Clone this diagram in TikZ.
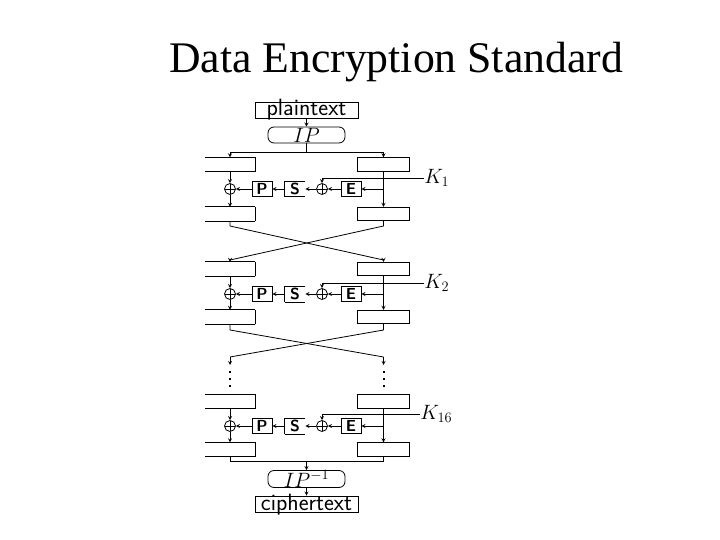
\documentclass[tikz,border=0pt]{standalone}
\usepackage{fontspec}
\setmainfont{Liberation Serif}
\usepackage{tikz}
\usetikzlibrary{arrows}
\tikzstyle{endbox} = [rectangle, draw=black, minimum width=103pt, minimum height=16pt, inner sep=0pt, text height=14pt, text depth=2pt, font=\sffamily\fontsize{23.5}{24}\selectfont]
\tikzstyle{ipbox} = [rectangle, rounded corners=6pt, draw=black, minimum width=77pt, minimum height=16pt, inner sep=0pt, font=\fontsize{20}{20}\selectfont]
\tikzstyle{halfbox} = [rectangle, minimum width=50pt, minimum height=13.5pt, inner sep=0pt, append after command={(\tikzlastnode.north west) edge[-] (\tikzlastnode.north east) (\tikzlastnode.north east) edge[-] (\tikzlastnode.south east) (\tikzlastnode.south east) edge[-] (\tikzlastnode.south west)}]
\tikzstyle{regbox} = [rectangle, draw=black, minimum width=52pt, minimum height=13.5pt, inner sep=0pt]
\tikzstyle{func} = [rectangle, draw=black, minimum width=20pt, minimum height=15pt, inner sep=0pt, text height=11pt, text depth=0pt, font=\sffamily\bfseries\fontsize{16}{16}\selectfont]
\tikzstyle{sfunc} = [rectangle, minimum width=20pt, minimum height=15pt, inner sep=0pt, text height=11pt, text depth=0pt, font=\sffamily\bfseries\fontsize{16}{16}\selectfont, append after command={(\tikzlastnode.north east) edge[-] (\tikzlastnode.north west) (\tikzlastnode.north west) edge[-] (\tikzlastnode.south west) (\tikzlastnode.south west) edge[-] (\tikzlastnode.south east)}]
\tikzstyle{xorgate} = [circle, draw=black, minimum size=11pt, inner sep=0pt, path picture={\draw (path picture bounding box.west) -- (path picture bounding box.east); \draw (path picture bounding box.north) -- (path picture bounding box.south);}]
\tikzstyle{keylabel} = [inner sep=0pt, anchor=west, font=\fontsize{20}{20}\selectfont]
\tikzstyle{arrow} = [line width=0.8pt,->,>=stealth]
\tikzstyle{line} = [line width=0.8pt]
\tikzstyle{dots} = [line width=2pt, dash pattern=on 2pt off 5pt]

\begin{document}
\begin{tikzpicture}[x=1pt, y=1pt, node distance=25pt, line width=0.8pt]
\useasboundingbox (0,0) rectangle (720,-540);
% NODES
\node (title) [anchor=base, font=\fontsize{43.7}{44}\selectfont] at (396,-73) {Data Encryption Standard};
\node (plaintext) [endbox] at (306.5,-110) {plaintext};
\node (ip) [ipbox, below of=plaintext] {$IP$};
\coordinate [below of=ip, yshift=8pt] (bus1);

% round 1
\node (left1) [halfbox, below of=ip, xshift=-76.5pt, yshift=-4.5pt] {};
\node (right1) [regbox, right of=left1, xshift=128.5pt] {};
\node (xorl1) [xorgate, below of=left1, yshift=0.5pt] {};
\node (leftb1) [halfbox, below of=xorl1] {};
\node (rightb1) [regbox, right of=leftb1, xshift=128.5pt] {};
\node (p1) [func, right of=xorl1, xshift=7pt] {P};
\node (s1) [sfunc, right of=p1, xshift=8pt] {S};
\node (xorr1) [xorgate, right of=s1, xshift=2pt] {};
\node (e1) [func, right of=xorr1, xshift=4pt] {E};
\coordinate (tap1) at (right1 |- e1);
\node (k1) [keylabel] at (424,-178) {$K_1$};
\coordinate [below of=leftb1, yshift=13pt] (crossla1);
\coordinate [below of=rightb1, yshift=13pt] (crossra1);

% round 2
\node (left2) [halfbox, below of=leftb1, yshift=-30pt] {};
\node (right2) [regbox, right of=left2, xshift=128.5pt] {};
\coordinate [above of=left2, yshift=-16pt] (crosslb1);
\coordinate [above of=right2, yshift=-16pt] (crossrb1);
\node (xorl2) [xorgate, below of=left2] {};
\node (leftb2) [halfbox, below of=xorl2, yshift=2pt] {};
\node (rightb2) [regbox, right of=leftb2, xshift=128.5pt] {};
\node (p2) [func, right of=xorl2, xshift=7pt] {P};
\node (s2) [sfunc, right of=p2, xshift=8pt] {S};
\node (xorr2) [xorgate, right of=s2, xshift=2pt] {};
\node (e2) [func, right of=xorr2, xshift=4pt] {E};
\coordinate (tap2) at (right2 |- e2);
\node (k2) [keylabel] at (424,-283) {$K_2$};
\coordinate [below of=leftb2, yshift=12pt] (crossla2);
\coordinate [below of=rightb2, yshift=12pt] (crossra2);
\coordinate [below of=crossla2, yshift=-2pt] (crosslb2);
\coordinate [below of=crossra2, yshift=-2pt] (crossrb2);
\coordinate [below of=crosslb2, yshift=17pt] (stopl);
\coordinate [below of=crossrb2, yshift=17pt] (stopr);
\coordinate [below of=stopl, yshift=19pt] (dotsla);
\coordinate [below of=stopr, yshift=19pt] (dotsra);
\coordinate [below of=dotsla, yshift=8pt] (dotslb);
\coordinate [below of=dotsra, yshift=8pt] (dotsrb);

% round 16
\node (left3) [halfbox, below of=leftb2, yshift=-59.5pt] {};
\node (right3) [regbox, right of=left3, xshift=128.5pt] {};
\node (xorl3) [xorgate, below of=left3, yshift=0.5pt] {};
\node (leftb3) [halfbox, below of=xorl3, yshift=1.5pt] {};
\node (rightb3) [regbox, right of=leftb3, xshift=128.5pt] {};
\node (p3) [func, right of=xorl3, xshift=7pt] {P};
\node (s3) [sfunc, right of=p3, xshift=8pt] {S};
\node (xorr3) [xorgate, right of=s3, xshift=2pt] {};
\node (e3) [func, right of=xorr3, xshift=4pt] {E};
\coordinate (tap3) at (right3 |- e3);
\node (k3) [keylabel] at (420,-414) {$K_{16}$};

\node (ciphertext) [endbox] at (306.5,-504) {ciphertext};
\node (ipinv) [ipbox, above of=ciphertext, minimum height=17pt] {$IP^{-1}$};
\coordinate [above of=ipinv, yshift=-7.5pt] (bus3);

% ARROWS
\draw [arrow] (plaintext) -- (ip);
\draw [line] (ip) -- (bus1);
\draw [arrow] (bus1) -| (left1);
\draw [arrow] (bus1) -| (right1);

\draw [arrow] (left1) -- (xorl1);
\draw [arrow] (xorl1) -- (leftb1);
\draw [arrow] (right1) -- (rightb1);
\draw [arrow] (tap1) -- (e1);
\draw [arrow] (e1) -- (xorr1);
\draw [arrow] (xorr1) -- (s1);
\draw [arrow] (s1) -- (p1);
\draw [arrow] (p1) -- (xorl1);
\draw [arrow] (k1) -| (xorr1);
\draw [line] (leftb1) -- (crossla1) -- (crossrb1);
\draw [arrow] (crossrb1) -- (right2);
\draw [line] (rightb1) -- (crossra1) -- (crosslb1);
\draw [arrow] (crosslb1) -- (left2);

\draw [arrow] (left2) -- (xorl2);
\draw [arrow] (xorl2) -- (leftb2);
\draw [arrow] (right2) -- (rightb2);
\draw [arrow] (tap2) -- (e2);
\draw [arrow] (e2) -- (xorr2);
\draw [arrow] (xorr2) -- (s2);
\draw [arrow] (s2) -- (p2);
\draw [arrow] (p2) -- (xorl2);
\draw [arrow] (k2) -| (xorr2);
\draw [line] (leftb2) -- (crossla2) -- (crossrb2);
\draw [arrow] (crossrb2) -- (stopr);
\draw [line] (rightb2) -- (crossra2) -- (crosslb2);
\draw [arrow] (crosslb2) -- (stopl);
\draw [dots] (dotsla) -- (dotslb);
\draw [dots] (dotsra) -- (dotsrb);

\draw [arrow] (left3) -- (xorl3);
\draw [arrow] (xorl3) -- (leftb3);
\draw [arrow] (right3) -- (rightb3);
\draw [arrow] (tap3) -- (e3);
\draw [arrow] (e3) -- (xorr3);
\draw [arrow] (xorr3) -- (s3);
\draw [arrow] (s3) -- (p3);
\draw [arrow] (p3) -- (xorl3);
\draw [arrow] (k3) -| (xorr3);

\draw [line] (leftb3) |- (bus3);
\draw [line] (rightb3) |- (bus3);
\draw [arrow] (bus3) -- (ipinv);
\draw [arrow] (ipinv) -- (ciphertext);
\end{tikzpicture}
\end{document}
